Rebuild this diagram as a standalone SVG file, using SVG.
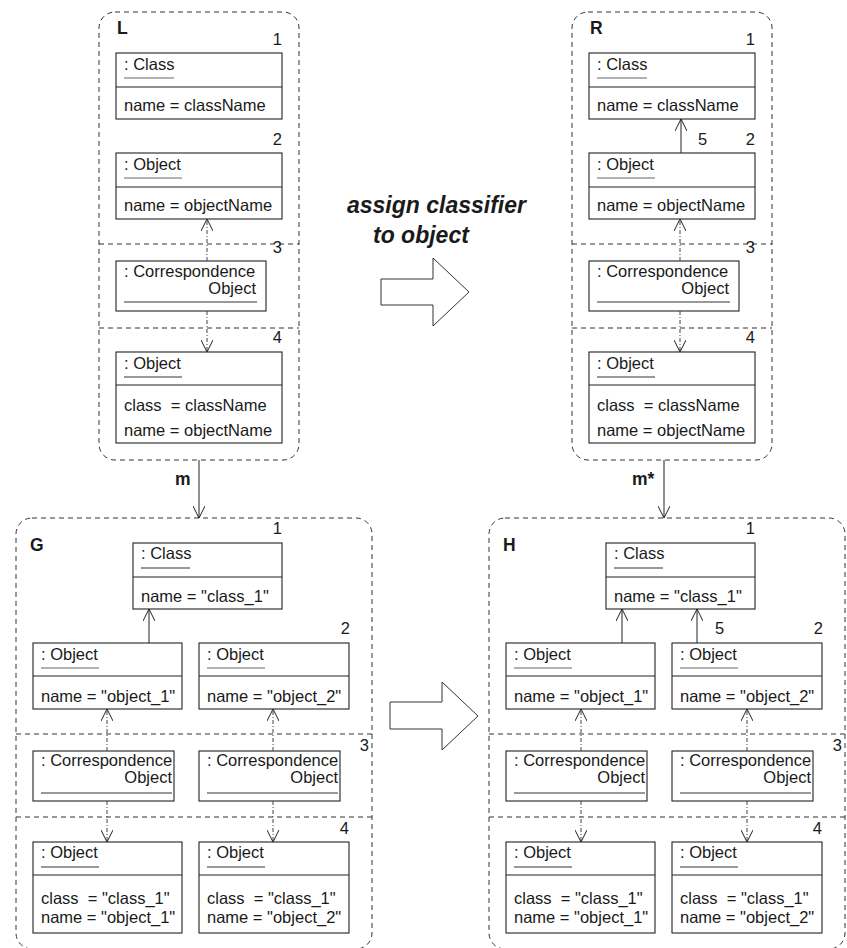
<svg xmlns="http://www.w3.org/2000/svg" width="847" height="948" viewBox="0 0 847 948">
  <style>
    text { font-family: "Liberation Sans", Arial, sans-serif; font-size: 16.5px; fill: #1a1a1a; }
    .title { font-size: 23px; font-weight: bold; font-style: italic; }
    .lbl { font-size: 17.5px; font-weight: bold; }
    .num { text-anchor: end; }
    .end { text-anchor: end; }
    .frame { fill: none; stroke: #333; stroke-width: 1; stroke-dasharray: 5 4; }
    .sep { stroke: #333; stroke-width: 1; stroke-dasharray: 5 4; }
    .box { fill: #fff; stroke: #222; stroke-width: 1.1; }
    .div { stroke: #222; stroke-width: 1.1; }
    .ul { stroke: #333; stroke-width: 1; }
    .ulg { stroke: #666; stroke-width: 1; }
    .solid { stroke: #222; stroke-width: 1; fill: none; marker-end: url(#open); }
    .corr { stroke: #444; stroke-width: 1; fill: none; stroke-dasharray: 4 2 1 2; marker-end: url(#open); }
    .big { fill: #fff; stroke: #333; stroke-width: 1; }
  </style>
  <defs>
    <marker id="open" viewBox="0 0 12 12" refX="12" refY="6" markerWidth="12" markerHeight="12" markerUnits="userSpaceOnUse" orient="auto">
      <path d="M0,0 L12,6 L0,12" fill="none" stroke="#222" stroke-width="1"/>
    </marker>
  </defs>

  <!-- rule title and transformation arrows -->
  <text class="title" x="347" y="213">assign classifier</text>
  <text class="title" x="373" y="243">to object</text>
  <polygon class="big" points="381,279 433,279 433,258 469,292 433,326 433,305 381,305"/>
  <polygon class="big" points="390,702 442,702 442,682 478,716 442,750 442,729 390,729"/>

  <!-- L: left-hand side -->
  <g id="L">
    <rect class="frame" x="99" y="12" width="200" height="448" rx="16"/>
    <line class="sep" x1="99" y1="244" x2="299" y2="244"/>
    <line class="sep" x1="99" y1="328" x2="299" y2="328"/>
    <text class="lbl" x="117" y="34">L</text>
    <text class="num" x="282" y="45">1</text>
    <text class="num" x="282" y="145">2</text>
    <text class="num" x="282" y="253">3</text>
    <text class="num" x="282" y="343">4</text>
  </g>
  <g id="L-class">
    <rect class="box" x="116" y="53" width="166" height="66"/>
    <line class="div" x1="116" y1="87" x2="282" y2="87"/>
    <text x="124" y="70">: Class</text>
    <line class="ulg" x1="124" y1="78" x2="174" y2="78"/>
    <text x="124" y="111">name = className</text>
  </g>
  <g id="L-object">
    <rect class="box" x="116" y="153" width="166" height="66"/>
    <line class="div" x1="116" y1="187" x2="282" y2="187"/>
    <text x="124" y="170">: Object</text>
    <line class="ulg" x1="124" y1="178" x2="182" y2="178"/>
    <text x="124" y="211">name = objectName</text>
  </g>
  <g id="L-corr">
    <rect class="box" x="116" y="261" width="150" height="50"/>
    <text x="124" y="277">: Correspondence</text>
    <text class="end" x="256" y="294">Object</text>
    <line class="ul" x1="124" y1="302" x2="257" y2="302"/>
  </g>
  <g id="L-target">
    <rect class="box" x="116" y="352" width="166" height="91"/>
    <line class="div" x1="116" y1="385" x2="282" y2="385"/>
    <text x="124" y="369">: Object</text>
    <line class="ul" x1="124" y1="377" x2="182" y2="377"/>
    <text x="124" y="411" xml:space="preserve">class  = className</text>
    <text x="124" y="436">name = objectName</text>
  </g>

  <!-- R: right-hand side -->
  <g id="R">
    <rect class="frame" x="572" y="12" width="200" height="448" rx="16"/>
    <line class="sep" x1="572" y1="244" x2="772" y2="244"/>
    <line class="sep" x1="572" y1="328" x2="772" y2="328"/>
    <text class="lbl" x="590" y="34">R</text>
    <text class="num" x="755" y="45">1</text>
    <text class="num" x="755" y="145">2</text>
    <text x="698" y="145">5</text>
    <text class="num" x="755" y="253">3</text>
    <text class="num" x="755" y="343">4</text>
  </g>
  <g id="R-class">
    <rect class="box" x="589" y="53" width="166" height="66"/>
    <line class="div" x1="589" y1="87" x2="755" y2="87"/>
    <text x="597" y="70">: Class</text>
    <line class="ulg" x1="597" y1="78" x2="647" y2="78"/>
    <text x="597" y="111">name = className</text>
  </g>
  <g id="R-object">
    <rect class="box" x="589" y="153" width="166" height="66"/>
    <line class="div" x1="589" y1="187" x2="755" y2="187"/>
    <text x="597" y="170">: Object</text>
    <line class="ulg" x1="597" y1="178" x2="655" y2="178"/>
    <text x="597" y="211">name = objectName</text>
  </g>
  <g id="R-corr">
    <rect class="box" x="589" y="261" width="150" height="50"/>
    <text x="597" y="277">: Correspondence</text>
    <text class="end" x="729" y="294">Object</text>
    <line class="ul" x1="597" y1="302" x2="730" y2="302"/>
  </g>
  <g id="R-target">
    <rect class="box" x="589" y="352" width="166" height="91"/>
    <line class="div" x1="589" y1="385" x2="755" y2="385"/>
    <text x="597" y="369">: Object</text>
    <line class="ul" x1="597" y1="377" x2="655" y2="377"/>
    <text x="597" y="411" xml:space="preserve">class  = className</text>
    <text x="597" y="436">name = objectName</text>
  </g>

  <!-- G: host graph -->
  <g id="G">
    <rect class="frame" x="16" y="518" width="356" height="431" rx="16"/>
    <line class="sep" x1="16" y1="734" x2="372" y2="734"/>
    <line class="sep" x1="16" y1="817" x2="372" y2="817"/>
    <text class="lbl" x="30" y="551">G</text>
    <text class="num" x="282" y="534">1</text>
    <text class="num" x="350" y="634">2</text>
    <text class="num" x="369" y="751">3</text>
    <text class="num" x="349" y="834">4</text>
  </g>
  <g id="G-class">
    <rect class="box" x="133" y="543" width="149" height="66"/>
    <line class="div" x1="133" y1="577" x2="282" y2="577"/>
    <text x="141" y="559">: Class</text>
    <line class="ul" x1="141" y1="568" x2="190" y2="568"/>
    <text x="141" y="602">name = "class_1"</text>
  </g>
  <g id="G-object1">
    <rect class="box" x="33" y="643" width="149" height="66"/>
    <line class="div" x1="33" y1="676" x2="182" y2="676"/>
    <text x="41" y="660">: Object</text>
    <line class="ulg" x1="41" y1="668" x2="99" y2="668"/>
    <text x="41" y="702">name = "object_1"</text>
  </g>
  <g id="G-object2">
    <rect class="box" x="199" y="643" width="150" height="66"/>
    <line class="div" x1="199" y1="676" x2="349" y2="676"/>
    <text x="207" y="660">: Object</text>
    <line class="ulg" x1="207" y1="668" x2="265" y2="668"/>
    <text x="207" y="702">name = "object_2"</text>
  </g>
  <g id="G-corr1">
    <rect class="box" x="33" y="751" width="141" height="50"/>
    <text x="41" y="766">: Correspondence</text>
    <text class="end" x="172" y="783">Object</text>
    <line class="ul" x1="41" y1="793" x2="172" y2="793"/>
  </g>
  <g id="G-corr2">
    <rect class="box" x="199" y="751" width="141" height="50"/>
    <text x="207" y="766">: Correspondence</text>
    <text class="end" x="338" y="783">Object</text>
    <line class="ul" x1="207" y1="793" x2="338" y2="793"/>
  </g>
  <g id="G-target1">
    <rect class="box" x="33" y="842" width="149" height="91"/>
    <line class="div" x1="33" y1="875" x2="182" y2="875"/>
    <text x="41" y="858">: Object</text>
    <line class="ul" x1="41" y1="867" x2="99" y2="867"/>
    <text x="41" y="904" xml:space="preserve">class  = "class_1"</text>
    <text x="41" y="923">name = "object_1"</text>
  </g>
  <g id="G-target2">
    <rect class="box" x="199" y="842" width="150" height="91"/>
    <line class="div" x1="199" y1="875" x2="349" y2="875"/>
    <text x="207" y="858">: Object</text>
    <line class="ul" x1="207" y1="867" x2="265" y2="867"/>
    <text x="207" y="904" xml:space="preserve">class  = "class_1"</text>
    <text x="207" y="923">name = "object_2"</text>
  </g>

  <!-- H: result graph -->
  <g id="H">
    <rect class="frame" x="489" y="518" width="356" height="431" rx="16"/>
    <line class="sep" x1="489" y1="734" x2="845" y2="734"/>
    <line class="sep" x1="489" y1="817" x2="845" y2="817"/>
    <text class="lbl" x="503" y="551">H</text>
    <text class="num" x="755" y="534">1</text>
    <text class="num" x="823" y="634">2</text>
    <text x="715" y="634">5</text>
    <text class="num" x="842" y="751">3</text>
    <text class="num" x="822" y="834">4</text>
  </g>
  <g id="H-class">
    <rect class="box" x="606" y="543" width="149" height="66"/>
    <line class="div" x1="606" y1="577" x2="755" y2="577"/>
    <text x="614" y="559">: Class</text>
    <line class="ul" x1="614" y1="568" x2="663" y2="568"/>
    <text x="614" y="602">name = "class_1"</text>
  </g>
  <g id="H-object1">
    <rect class="box" x="506" y="643" width="149" height="66"/>
    <line class="div" x1="506" y1="676" x2="655" y2="676"/>
    <text x="514" y="660">: Object</text>
    <line class="ulg" x1="514" y1="668" x2="572" y2="668"/>
    <text x="514" y="702">name = "object_1"</text>
  </g>
  <g id="H-object2">
    <rect class="box" x="672" y="643" width="150" height="66"/>
    <line class="div" x1="672" y1="676" x2="822" y2="676"/>
    <text x="680" y="660">: Object</text>
    <line class="ulg" x1="680" y1="668" x2="738" y2="668"/>
    <text x="680" y="702">name = "object_2"</text>
  </g>
  <g id="H-corr1">
    <rect class="box" x="506" y="751" width="141" height="50"/>
    <text x="514" y="766">: Correspondence</text>
    <text class="end" x="645" y="783">Object</text>
    <line class="ul" x1="514" y1="793" x2="645" y2="793"/>
  </g>
  <g id="H-corr2">
    <rect class="box" x="672" y="751" width="141" height="50"/>
    <text x="680" y="766">: Correspondence</text>
    <text class="end" x="811" y="783">Object</text>
    <line class="ul" x1="680" y1="793" x2="811" y2="793"/>
  </g>
  <g id="H-target1">
    <rect class="box" x="506" y="842" width="149" height="91"/>
    <line class="div" x1="506" y1="875" x2="655" y2="875"/>
    <text x="514" y="858">: Object</text>
    <line class="ul" x1="514" y1="867" x2="572" y2="867"/>
    <text x="514" y="904" xml:space="preserve">class  = "class_1"</text>
    <text x="514" y="923">name = "object_1"</text>
  </g>
  <g id="H-target2">
    <rect class="box" x="672" y="842" width="150" height="91"/>
    <line class="div" x1="672" y1="875" x2="822" y2="875"/>
    <text x="680" y="858">: Object</text>
    <line class="ul" x1="680" y1="867" x2="738" y2="867"/>
    <text x="680" y="904" xml:space="preserve">class  = "class_1"</text>
    <text x="680" y="923">name = "object_2"</text>
  </g>

  <!-- connectors -->
  <g id="connectors">
    <!-- morphisms -->
    <line class="solid" x1="199" y1="460" x2="199" y2="518"/>
    <text class="lbl" x="175" y="485">m</text>
    <line class="solid" x1="664" y1="460" x2="664" y2="518"/>
    <text class="lbl" x="632" y="485">m*</text>
    <!-- correspondence links -->
    <line class="corr" x1="207" y1="261" x2="207" y2="219"/>
    <line class="corr" x1="207" y1="311" x2="207" y2="352"/>
    <line class="corr" x1="680" y1="261" x2="680" y2="219"/>
    <line class="corr" x1="680" y1="311" x2="680" y2="352"/>
    <line class="corr" x1="107" y1="751" x2="107" y2="709"/>
    <line class="corr" x1="107" y1="801" x2="107" y2="842"/>
    <line class="corr" x1="273" y1="751" x2="273" y2="709"/>
    <line class="corr" x1="273" y1="801" x2="273" y2="842"/>
    <line class="corr" x1="581" y1="751" x2="581" y2="709"/>
    <line class="corr" x1="581" y1="801" x2="581" y2="842"/>
    <line class="corr" x1="747" y1="751" x2="747" y2="709"/>
    <line class="corr" x1="747" y1="801" x2="747" y2="842"/>
    <!-- instance-of links -->
    <line class="solid" x1="681" y1="153" x2="681" y2="119"/>
    <line class="solid" x1="149" y1="643" x2="149" y2="609"/>
    <line class="solid" x1="622" y1="643" x2="622" y2="609"/>
    <line class="solid" x1="697" y1="643" x2="697" y2="609"/>
  </g>
</svg>
